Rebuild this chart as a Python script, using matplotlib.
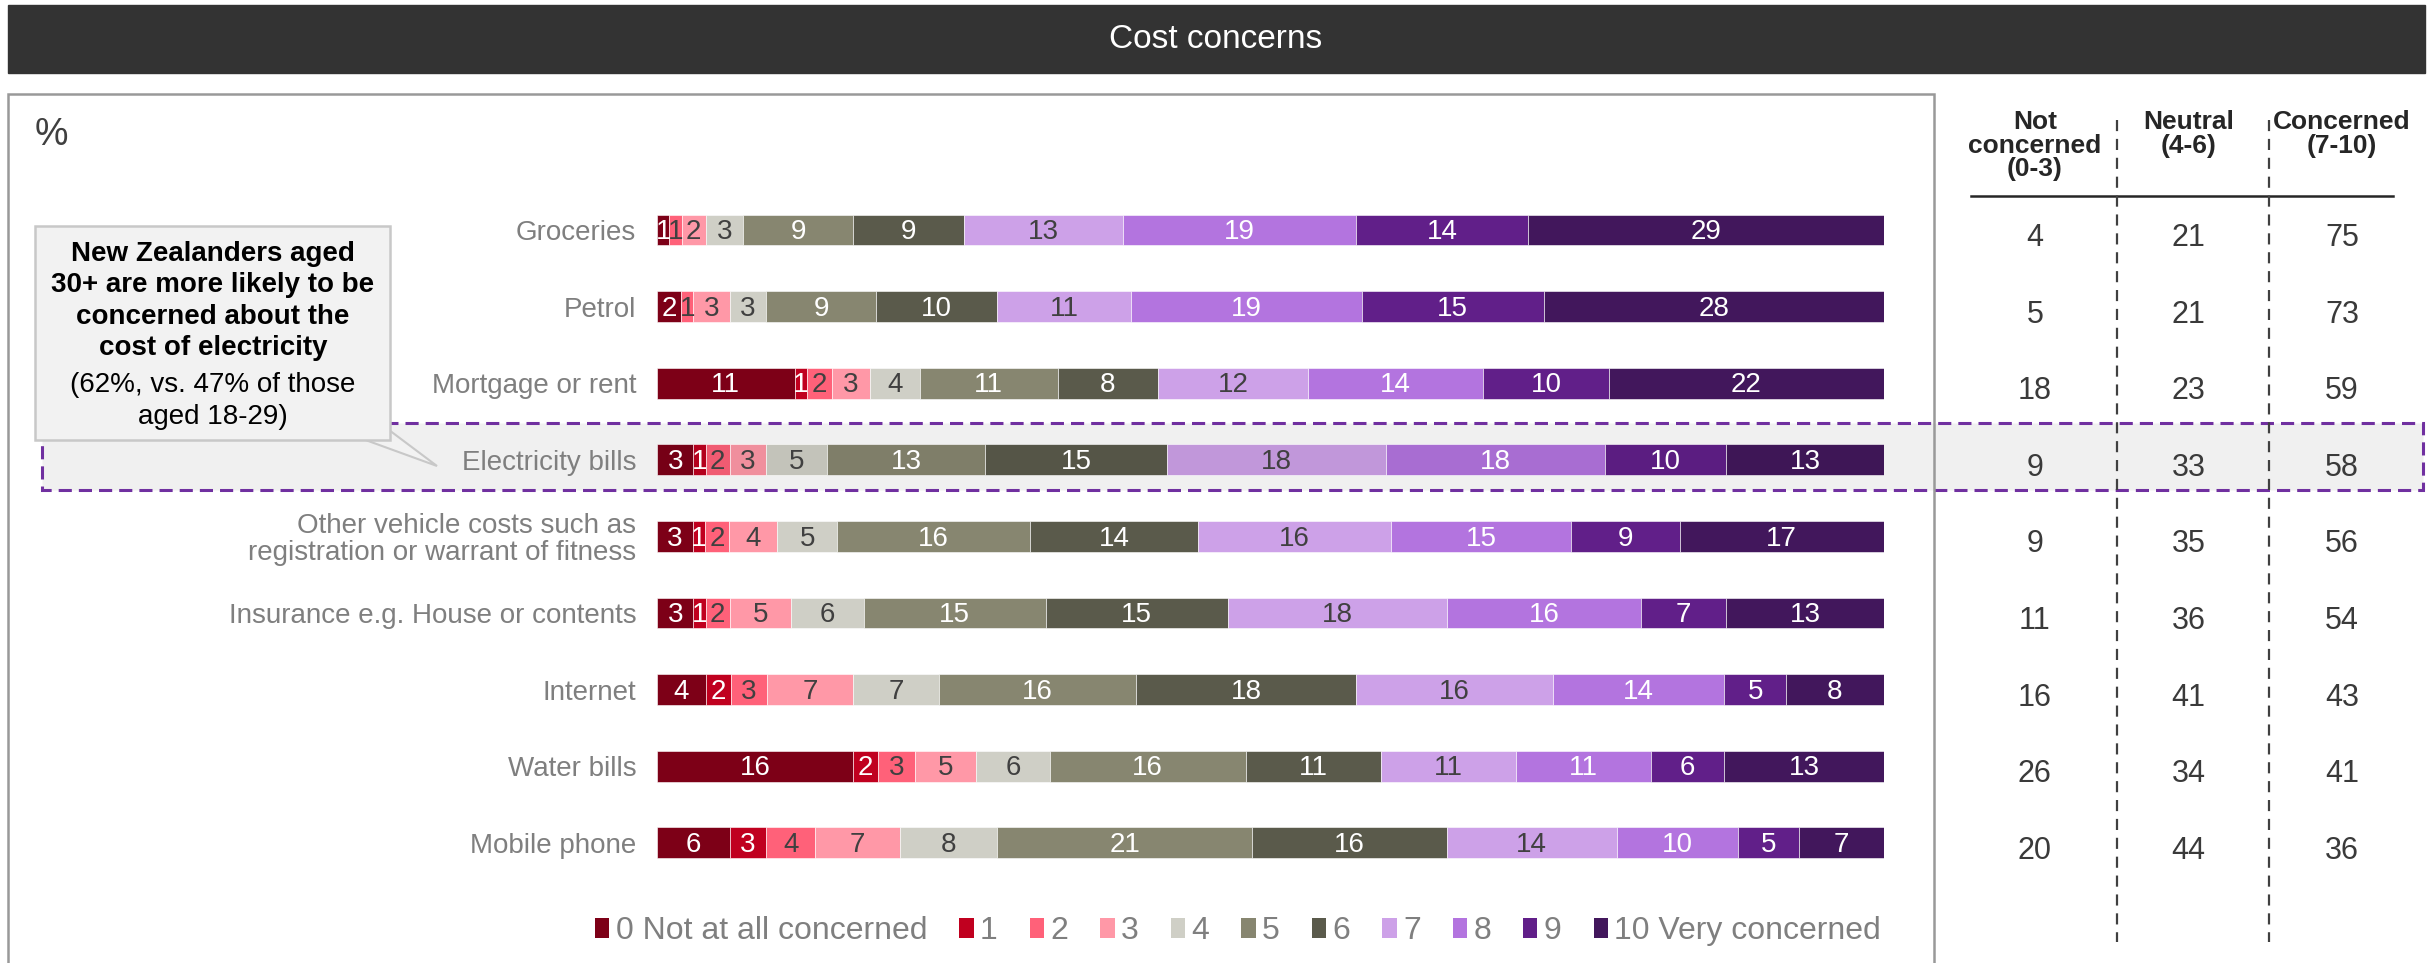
import numpy as np
import matplotlib
matplotlib.use('Agg')
from matplotlib import pyplot as plt
from matplotlib.patches import Rectangle, Polygon, Patch
from matplotlib.transforms import blended_transform_factory

plt.rcParams['font.family'] = ['Liberation Sans', 'DejaVu Sans']

# данные
categories = ['Groceries', 'Petrol', 'Mortgage or rent', 'Electricity bills',
              'Other vehicle costs such as\nregistration or warrant of fitness',
              'Insurance e.g. House or contents', 'Internet', 'Water bills', 'Mobile phone']
scale_labels = ['0 Not at all concerned', '1', '2', '3', '4', '5', '6', '7', '8', '9',
                '10 Very concerned']
groceries = [1, 0, 1, 2, 3, 9, 9, 13, 19, 14, 29]
petrol = [2, 0, 1, 3, 3, 9, 10, 11, 19, 15, 28]
mortgage = [11, 1, 2, 3, 4, 11, 8, 12, 14, 10, 22]
electricity = [3, 1, 2, 3, 5, 13, 15, 18, 18, 10, 13]
other_vehicle = [3, 1, 2, 4, 5, 16, 14, 16, 15, 9, 17]
insurance = [3, 1, 2, 5, 6, 15, 15, 18, 16, 7, 13]
internet = [4, 2, 3, 7, 7, 16, 18, 16, 14, 5, 8]
water = [16, 2, 3, 5, 6, 16, 11, 11, 11, 6, 13]
mobile = [6, 3, 4, 7, 8, 21, 16, 14, 10, 5, 7]
rows = [groceries, petrol, mortgage, electricity, other_vehicle, insurance,
        internet, water, mobile]

table_headers = ['Not\nconcerned\n(0-3)', 'Neutral\n(4-6)', 'Concerned\n(7-10)']
not_concerned = [4, 5, 18, 9, 9, 11, 16, 26, 20]
neutral = [21, 21, 23, 33, 35, 36, 41, 34, 44]
concerned = [75, 73, 59, 58, 56, 54, 43, 41, 36]
highlight_row = 3

colors = ['#7d0017', '#c0001f', '#ff6179', '#ff98a7', '#cfcfc6', '#878670',
          '#5a5a4b', '#cda1e8', '#b374df', '#611f89', '#42175c']
text_colors = ['white', 'white', '#404040', '#404040', '#404040', 'white',
               'white', '#404040', 'white', 'white', 'white']

W, H = 2433, 963
fig = plt.figure(figsize=(W / 100, H / 100), dpi=100)

# фон в пикселях
bg = fig.add_axes([0, 0, 1, 1], zorder=0)
bg.set_xlim(0, W)
bg.set_ylim(H, 0)
bg.axis('off')

# ось с полосами
row_top, row_step = 230, 76.6
n = len(categories)
ax_top = row_top - row_step / 2
ax_h = row_step * n
ax = fig.add_axes([657 / W, 1 - (ax_top + ax_h) / H, 1227 / W, ax_h / H], zorder=2)
ax.patch.set_visible(False)

y = np.arange(n)
for i, vals in enumerate(rows):
    vals = np.array(vals, dtype=float)
    widths = vals / vals.sum() * 100
    left = 0
    for k in range(len(vals)):
        c = np.array(matplotlib.colors.to_rgb(colors[k]))
        if i == highlight_row:
            c = c * 0.94
        if vals[k] > 0:
            ax.barh(y[i], widths[k], left=left, height=0.4, color=c,
                    edgecolor='white', linewidth=0.4)
            ax.text(left + widths[k] / 2, y[i] + 0.03, f'{int(vals[k])}', ha='center',
                    va='center', fontsize=20, color=text_colors[k])
        left += widths[k]

ax.set_xlim(0, 100)
ax.set_ylim(n - 0.5, -0.5)
ax.set_yticks(y)
ax.set_yticklabels(categories, fontsize=20, color='#7f7f7f', linespacing=1.05)
ax.tick_params(axis='y', length=0, pad=15)
ax.set_xticks([])
for s in ax.spines.values():
    s.set_visible(False)

# заголовок
bg.add_patch(Rectangle((8, 5), 2417, 68, color='#333333', zorder=1))
bg.text(1216, 39, 'Cost concerns', color='white', fontsize=24, ha='center', va='center')

# выделенная строка
hl_tr = blended_transform_factory(bg.transData, ax.transData)
bg.add_patch(Rectangle((42, highlight_row - 0.48), 2381, 0.88, transform=hl_tr,
                       facecolor='#f0f0f0', edgecolor='#7030a0', linewidth=2.2,
                       linestyle=(0, (4.3, 2.3)), clip_on=False, zorder=2))

# рамка
bg.add_patch(Rectangle((8, 94), 1926, 870, fill=False, edgecolor='#999999',
                       linewidth=1.8, zorder=3))
bg.text(35, 135, '%', fontsize=27, color='#404040', ha='left', va='center')

# выноска
bg.add_patch(Polygon([(360, 438), (389, 430), (437, 466)], closed=True,
                     facecolor='#f2f2f2', edgecolor='#c8c8c8', linewidth=1.5, zorder=4))
bg.add_patch(Rectangle((35, 226), 355, 214, facecolor='#f2f2f2', edgecolor='#c8c8c8',
                       linewidth=1.8, zorder=5))
bg.text(213, 301, 'New Zealanders aged\n30+ are more likely to be\nconcerned about the\ncost of electricity',
        fontsize=20, fontweight='bold', ha='center', va='center', color='black',
        linespacing=1.27, zorder=6)
bg.text(213, 401, '(62%, vs. 47% of those\naged 18-29)', fontsize=20, ha='center',
        va='center', color='black', linespacing=1.27, zorder=6)

# таблица справа
tab_shift = 8
tax = fig.add_axes([1958 / W, 1 - (ax_top + ax_h + tab_shift) / H, 461 / W, ax_h / H],
                   zorder=2)
tax.patch.set_visible(False)
tax.set_xlim(-0.5, 2.5)
tax.set_ylim(n - 0.5, -0.5)
tax.axis('off')
for j, col in enumerate([not_concerned, neutral, concerned]):
    for i, v in enumerate(col):
        tax.text(j, i, str(v), ha='center', va='center', fontsize=22, color='#3a3a3a')
head_tr = blended_transform_factory(tax.transData, bg.transData)
for j, h in enumerate(table_headers):
    tax.text(j, 110, h, transform=head_tr, ha='center', va='top', fontsize=19,
             fontweight='bold', color='#262626', linespacing=0.98)
bg.plot([1971, 2393], [196, 196], color='#262626', linewidth=1.8, zorder=3)
for xv in [2117, 2269]:
    bg.plot([xv, xv], [120, 942], color='#404040', linewidth=1.6,
            linestyle=(0, (5, 3.5)), zorder=3)

# легенда
handles = [Patch(facecolor=c) for c in colors]
fig.legend(handles, scale_labels, loc='center', bbox_to_anchor=(1238, 931),
           bbox_transform=bg.transData, ncol=11, frameon=False, fontsize=23,
           handlelength=0.45, handleheight=0.6, handletextpad=0.2,
           columnspacing=1.0, labelcolor='#7f7f7f')

fig.savefig('out.png', dpi=100)
